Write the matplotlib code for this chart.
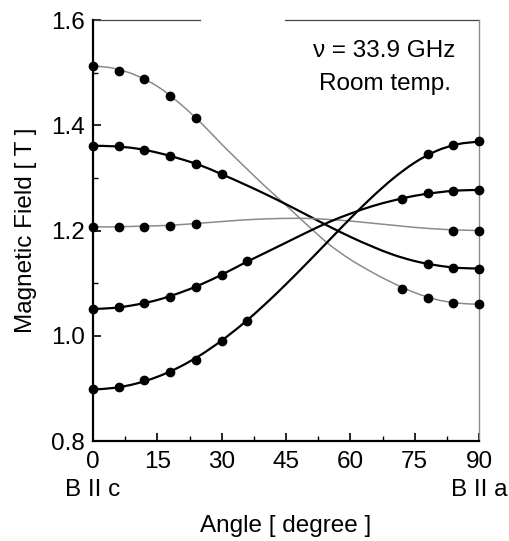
import matplotlib
matplotlib.use("Agg")
import matplotlib.pyplot as plt
from matplotlib.ticker import MultipleLocator, FormatStrFormatter
from matplotlib.path import Path
from matplotlib.patches import PathPatch

plt.rcParams['font.family'] = ['Liberation Sans', 'DejaVu Sans']

# smooth (fitted) curves, read every 5 degrees
curve_angles = [0, 5, 10, 15, 20, 25, 30, 35, 40, 45, 50, 55, 60, 65, 70, 75, 80, 85, 90]
curve_a = [1.513, 1.508, 1.495, 1.474, 1.443, 1.406, 1.364, 1.324, 1.285, 1.248, 1.210, 1.174,
           1.145, 1.121, 1.100, 1.082, 1.069, 1.062, 1.060]
curve_b = [1.361, 1.360, 1.356, 1.348, 1.337, 1.324, 1.307, 1.289, 1.270, 1.250, 1.229, 1.208,
           1.188, 1.170, 1.154, 1.142, 1.134, 1.129, 1.128]
curve_c = [1.207, 1.207, 1.208, 1.209, 1.211, 1.214, 1.217, 1.220, 1.222, 1.223, 1.223, 1.221,
           1.218, 1.214, 1.210, 1.206, 1.203, 1.201, 1.200]
curve_d = [1.051, 1.053, 1.059, 1.068, 1.081, 1.097, 1.116, 1.137, 1.157, 1.177, 1.197, 1.216,
           1.232, 1.246, 1.257, 1.266, 1.272, 1.276, 1.277]
curve_e = [0.898, 0.901, 0.909, 0.922, 0.940, 0.963, 0.991, 1.023, 1.059, 1.098, 1.139, 1.181,
           1.223, 1.263, 1.299, 1.329, 1.351, 1.364, 1.369]

# measured points
pts_a_x = [0, 6, 12, 18, 24, 72, 78, 84, 90]
pts_a_y = [1.513, 1.504, 1.488, 1.455, 1.414, 1.088, 1.072, 1.063, 1.060]
pts_b_x = [0, 6, 12, 18, 24, 30, 78, 84, 90]
pts_b_y = [1.361, 1.361, 1.353, 1.342, 1.327, 1.307, 1.136, 1.128, 1.127]
pts_c_x = [0, 6, 12, 18, 24, 84, 90]
pts_c_y = [1.207, 1.207, 1.207, 1.209, 1.212, 1.200, 1.200]
pts_d_x = [0, 6, 12, 18, 24, 30, 36, 72, 78, 84, 90]
pts_d_y = [1.051, 1.054, 1.063, 1.074, 1.093, 1.116, 1.142, 1.260, 1.271, 1.276, 1.277]
pts_e_x = [0, 6, 12, 18, 24, 30, 36, 78, 84, 90]
pts_e_y = [0.898, 0.902, 0.916, 0.932, 0.954, 0.991, 1.029, 1.345, 1.362, 1.370]

x_ticks = [0, 15, 30, 45, 60, 75, 90]
y_ticks = [0.8, 1.0, 1.2, 1.4, 1.6]


def smooth_path(xs, ys):
    """Catmull-Rom curve through the given points, as cubic Bezier segments."""
    pts = list(zip(xs, ys))
    n = len(pts)
    verts = [pts[0]]
    codes = [Path.MOVETO]
    for i in range(n - 1):
        p0 = pts[i - 1] if i > 0 else pts[i]
        p1 = pts[i]
        p2 = pts[i + 1]
        p3 = pts[i + 2] if i + 2 < n else pts[i + 1]
        c1 = (p1[0] + (p2[0] - p0[0]) / 6, p1[1] + (p2[1] - p0[1]) / 6)
        c2 = (p2[0] - (p3[0] - p1[0]) / 6, p2[1] - (p3[1] - p1[1]) / 6)
        verts += [c1, c2, p2]
        codes += [Path.CURVE4] * 3
    return Path(verts, codes)


fig = plt.figure(figsize=(5.09, 5.41), dpi=100)
ax = fig.add_axes([0.1827, 0.1848, 0.7584, 0.7782])

gray = '#8a8a8a'
for cy, col, lw in [(curve_a, gray, 1.1), (curve_b, 'black', 1.6), (curve_c, gray, 1.1),
                    (curve_d, 'black', 1.6), (curve_e, 'black', 1.6)]:
    ax.add_patch(PathPatch(smooth_path(curve_angles, cy), fill=False, edgecolor=col,
                           lw=lw, zorder=2))

for px, py in [(pts_a_x, pts_a_y), (pts_b_x, pts_b_y), (pts_c_x, pts_c_y),
               (pts_d_x, pts_d_y), (pts_e_x, pts_e_y)]:
    ax.plot(px, py, 'o', color='black', ms=6, zorder=3, clip_on=False)

ax.set_xlim(0, 90)
ax.set_ylim(0.8, 1.6)
ax.set_xticks(x_ticks)
ax.set_yticks(y_ticks)
ax.xaxis.set_minor_locator(MultipleLocator(7.5))
ax.yaxis.set_minor_locator(MultipleLocator(0.1))
ax.yaxis.set_major_formatter(FormatStrFormatter('%.1f'))
ax.tick_params(which='major', direction='in', length=6, width=1.2, labelsize=17.5,
               top=False, right=False)
ax.tick_params(axis='x', which='major', pad=7)
ax.tick_params(axis='y', which='major', pad=6)
ax.tick_params(which='minor', direction='in', length=3.5, width=1.0, top=False, right=False)

ax.spines['left'].set_linewidth(1.6)
ax.spines['bottom'].set_linewidth(1.6)
ax.spines['right'].set_color(gray)
ax.spines['right'].set_linewidth(1.0)
ax.spines['top'].set_visible(False)
ax.axhline(1.6, xmin=0, xmax=0.277, color='#444444', lw=0.9, clip_on=False)
ax.axhline(1.6, xmin=0.497, xmax=1.0, color='#444444', lw=0.9, clip_on=False)

ax.set_xlabel('Angle [ degree ]', fontsize=17.5)
ax.xaxis.set_label_coords(0.5, -0.175)
ax.set_ylabel('Magnetic Field [ T ]', fontsize=17.5)
ax.yaxis.set_label_coords(-0.145, 0.5)

ax.text(68, 1.530, 'ν = 33.9 GHz', fontsize=17.5, ha='center', va='baseline')
ax.text(68, 1.467, 'Room temp.', fontsize=17.5, ha='center', va='baseline')

ax.text(0, -0.09, 'B II c', transform=ax.get_xaxis_transform(), fontsize=17.5,
        ha='center', va='top')
ax.text(90, -0.09, 'B II a', transform=ax.get_xaxis_transform(), fontsize=17.5,
        ha='center', va='top')

fig.savefig('out.png', dpi=100)
